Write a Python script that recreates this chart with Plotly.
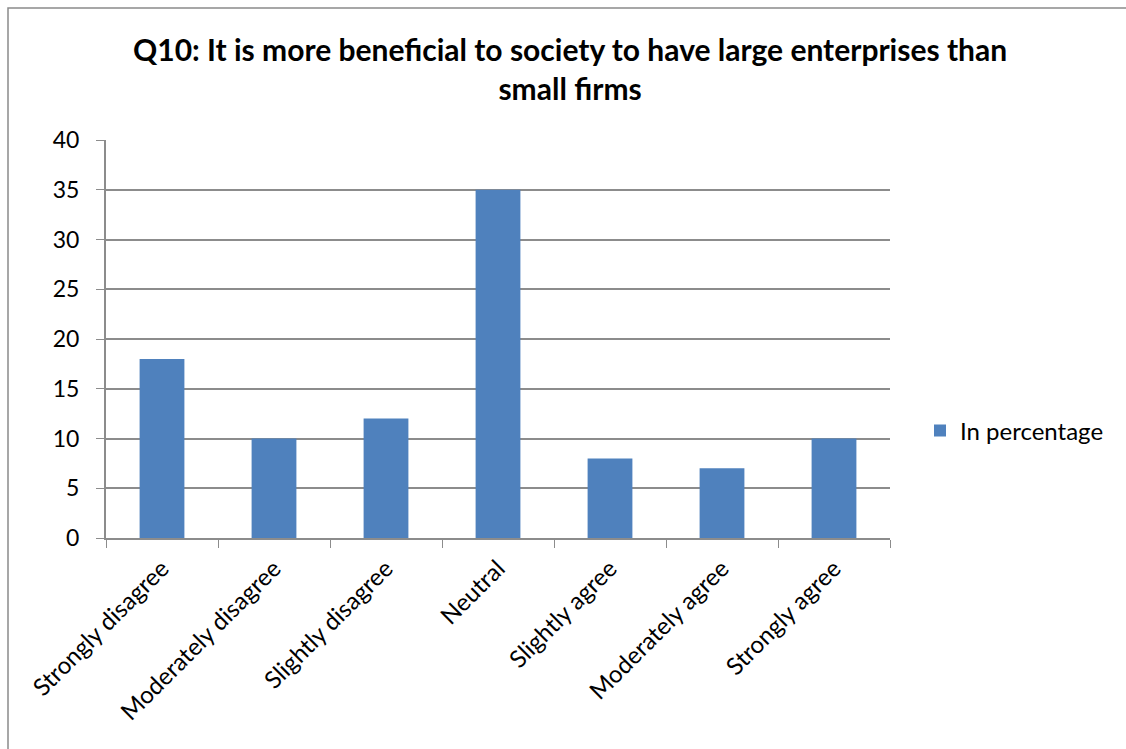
import plotly.graph_objects as go

categories = ["Strongly disagree", "Moderately disagree", "Slightly disagree", "Neutral",
              "Slightly agree", "Moderately agree", "Strongly agree"]
percentages = [18, 10, 12, 35, 8, 7, 10]
series_name = "In percentage"
y_ticks = [0, 5, 10, 15, 20, 25, 30, 35, 40]
title_text = ("<b>Q10: It is more beneficial to society to have large enterprises than"
              "<br>small firms</b>")

W, H = 1126, 749
ML, MR, MT, MB = 106, 236, 140, 211
plot_w = W - ML - MR
plot_h = H - MT - MB

def px_x(p):
    return (p - ML) / plot_w

def px_y(p):
    return (H - MB - p) / plot_h

grid = "#8c8c8c"
font_family = "Lato, 'Open Sans', sans-serif"

fig = go.Figure(go.Bar(
    x=categories, y=percentages, name=series_name,
    marker=dict(color="#4F81BD", line=dict(width=0)),
    showlegend=True,
))

fig.update_layout(
    width=W, height=H,
    margin=dict(l=ML, r=MR, t=MT, b=MB),
    paper_bgcolor="white", plot_bgcolor="white",
    bargap=0.6,
    font=dict(family=font_family, size=24, color="black"),
    legend=dict(
        x=px_x(920), y=px_y(431), xanchor="left", yanchor="middle",
        font=dict(size=24), itemwidth=30,
    ),
    annotations=[dict(
        text=title_text, xref="paper", yref="paper",
        x=px_x(570), y=px_y(68), xanchor="center", yanchor="middle",
        showarrow=False, font=dict(size=30, family=font_family, color="black"),
    )],
    shapes=[dict(
        type="rect", xref="paper", yref="paper",
        x0=px_x(8), y0=-3, x1=3, y1=px_y(8),
        line=dict(color="#8a8a8a", width=1.5), fillcolor="rgba(0,0,0,0)",
        layer="below",
    )],
)

fig.update_xaxes(
    tickangle=-45, tickson="boundaries", ticks="outside", ticklen=8,
    tickcolor=grid, showline=True, linecolor=grid, linewidth=2,
    showgrid=False, tickfont=dict(size=24), ticklabelstandoff=5,
)
fig.update_yaxes(
    range=[0, 40], tickvals=y_ticks, ticks="outside", ticklen=8,
    tickcolor=grid, showline=True, linecolor=grid, linewidth=2,
    showgrid=True, gridcolor=grid, gridwidth=2, zeroline=False,
    tickfont=dict(size=23), ticklabelstandoff=12,
)

fig.write_html("out.html")
